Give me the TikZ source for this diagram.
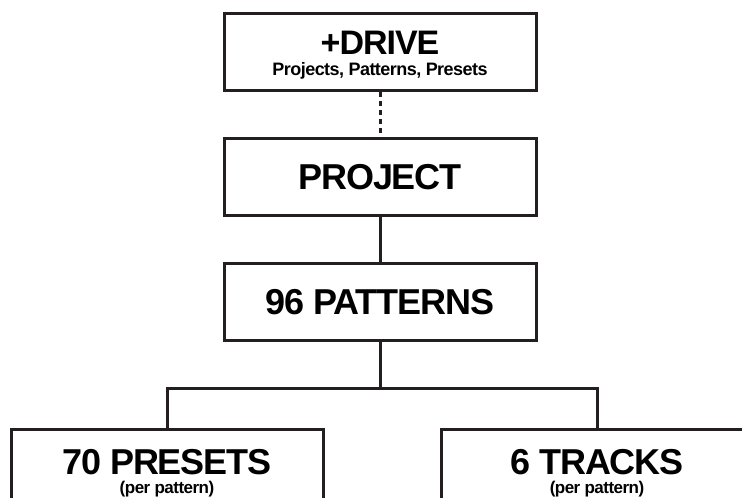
\documentclass[tikz,border=0pt]{standalone}
\usepackage{fontspec}
\setmainfont{Liberation Sans}
\newfontfamily\tightfont{Liberation Sans}[LetterSpace=-3]
\usetikzlibrary{positioning}
\definecolor{inkdark}{RGB}{35,31,32}
\newcommand\mainlabel[1]{\fontsize{#1}{#1}\tightfont\bfseries}
\newcommand\sublabel[1]{\fontsize{#1}{#1}\tightfont\bfseries}

\begin{document}
\begin{tikzpicture}[x=1pt,y=1pt,node distance=125pt,
  level/.style={draw=inkdark,line width=3pt,fill=white,minimum width=312pt,
    minimum height=77pt,inner sep=0pt,align=center,font=\fontsize{10}{18}\selectfont},
  link/.style={draw=inkdark,line width=3pt}]
  \useasboundingbox (0,0) rectangle (742,-498);
  \clip (0,0) rectangle (742,-498);
  % Main chain
  \node[level] (drive)    at (380,-52)        {\rule{0pt}{29pt}\mainlabel{34}+DRIVE\\[3pt]\sublabel{18}Projects, Patterns, Presets};
  \node[level] (project)  [below of=drive]    {\mainlabel{36}PROJECT};
  \node[level] (patterns) [below of=project]  {\mainlabel{36}96 PATTERNS};
  % Per pattern
  \node[level] (presets)  [below of=patterns,xshift=-213pt,yshift=-41pt]
    {\rule{0pt}{36pt}\mainlabel{36}70 PRESETS\\[1pt]\sublabel{17}(per pattern)};
  \node[level] (tracks)   [below of=patterns,xshift= 217pt,yshift=-41pt]
    {\rule{0pt}{36pt}\mainlabel{36}6 TRACKS\\[1pt]\sublabel{17}(per pattern)};
  \coordinate (fork) at ([yshift=-46pt]patterns.south);
  % Connecting edges
  \path[link,dash pattern=on 5pt off 4pt] (drive) -- (project);
  \path[link] (project) -- (patterns);
  \path[link] (patterns) -- (fork);
  \path[link] (presets.north) |- (fork) -| (tracks.north);
\end{tikzpicture}
\end{document}
